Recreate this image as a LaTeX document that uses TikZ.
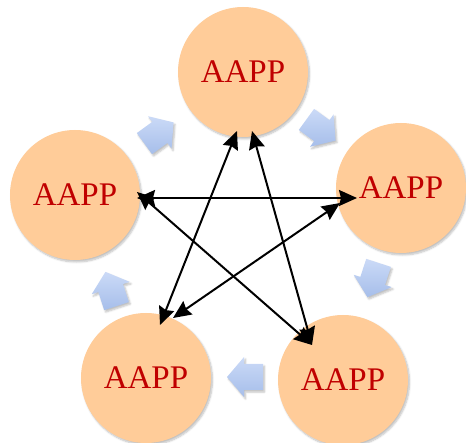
\documentclass[tikz,border=0pt]{standalone}
\usepackage{fontspec}
\setmainfont{Liberation Serif}
\usepackage{tikz}
\usetikzlibrary{arrows.meta,shadows.blur}

\definecolor{peach}{HTML}{FFCC99}
\definecolor{aared}{HTML}{C00000}
\definecolor{chevtop}{HTML}{CBDAF7}
\definecolor{chevbot}{HTML}{A6BEEA}

\tikzset{
  ball/.style={circle, fill=peach, minimum size=130pt, inner sep=0pt, text=aared,
    font=\fontsize{33}{40}\selectfont,
    blur shadow={shadow xshift=1.5pt, shadow yshift=-2pt, shadow opacity=25, shadow blur steps=6}},
  link/.style={line width=2pt, {Stealth[length=18pt,width=16pt,inset=2pt]}-{Stealth[length=18pt,width=16pt,inset=2pt]}},
  chev/.style={top color=chevtop, bottom color=chevbot,
    blur shadow={shadow xshift=1.5pt, shadow yshift=-2pt, shadow opacity=25, shadow blur steps=5}}
}

\begin{document}
\begin{tikzpicture}[x=1pt,y=-1pt]
      \useasboundingbox (0,0) rectangle (466,443);
      % circles
      \node[ball] (nT) at (243,72) {AAPP};
      \node[ball] (nR) at (401,188) {AAPP};
      \node[ball] (nBR) at (343,380) {AAPP};
      \node[ball] (nBL) at (146,378) {AAPP};
      \node[ball] (nL) at (75,195) {AAPP};
      % blue block arrows, clockwise
      \foreach \px/\py/\ang in {159/133/36, 321/130/-36, 373/280/-108, 245/377/180, 111/289/108} {
        \begin{scope}[shift={(\px,\py)}, rotate=\ang]
          \shade[chev] (-18,-13) -- (1,-13) -- (1,-20) -- (18,0) -- (1,20) -- (1,13) -- (-18,13) -- cycle;
        \end{scope}
      }
      % arrow ends
      \coordinate (tT1) at ([shift={(-6,59)}]nT.center);
      \coordinate (tT2) at ([shift={(9,59)}]nT.center);
      \coordinate (tL1) at ([shift={(62,-3)}]nL.center);
      \coordinate (tL2) at ([shift={(62,3)}]nL.center);
      \coordinate (tR1) at ([shift={(-44,10)}]nR.center);
      \coordinate (tR2) at ([shift={(-61,15)}]nR.center);
      \coordinate (tBL1) at ([shift={(14,-53)}]nBL.center);
      \coordinate (tBL2) at ([shift={(27,-60)}]nBL.center);
      \coordinate (tBR) at ([shift={(-31,-35)}]nBR.center);
      % star
      \draw[link] (tT1) -- (tBL1);
      \draw[link] (tT2) -- (tBR);
      \draw[link] (tL2) -- (tR1);
      \draw[link] (tL1) -- (tBR);
      \draw[link] (tR2) -- (tBL2);
\end{tikzpicture}
\end{document}
